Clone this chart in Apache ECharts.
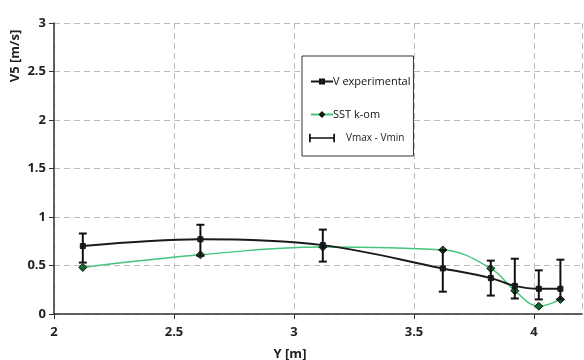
<!DOCTYPE html>
<html>
<head>
<meta charset="utf-8">
<script src="https://cdn.jsdelivr.net/npm/echarts@6/dist/echarts.min.js"></script>
<style>
  html, body { margin: 0; padding: 0; background: #fff; }
  #chart { width: 584px; height: 360px; }
</style>
</head>
<body>
<div id="chart"></div>
<script>
// positions along Y [m]
const yPos = [2.12, 2.61, 3.12, 3.62, 3.82, 3.92, 4.02, 4.11]
// measured velocity and its spread
const vExp = [0.70, 0.77, 0.71, 0.47, 0.37, 0.29, 0.26, 0.26]
const vMax = [0.83, 0.92, 0.87, 0.66, 0.55, 0.57, 0.45, 0.56]
const vMin = [0.53, 0.60, 0.54, 0.23, 0.19, 0.16, 0.15, 0.15]
// simulation
const vSst = [0.48, 0.61, 0.69, 0.66, 0.47, 0.24, 0.08, 0.15]

const font = 'Open Sans'
const chart = echarts.init(document.getElementById('chart'))

const errorData = yPos.map((x, i) => [x, vMin[i], vMax[i]])

// error bar: vertical line with caps
function renderError(params, api) {
  const top = api.coord([api.value(0), api.value(2)])
  const bot = api.coord([api.value(0), api.value(1)])
  const w = 4
  const style = { stroke: '#111', lineWidth: 2 }
  return {
    type: 'group',
    children: [
      { type: 'line', shape: { x1: top[0], y1: top[1], x2: bot[0], y2: bot[1] }, style },
      { type: 'line', shape: { x1: top[0] - w, y1: top[1], x2: top[0] + w, y2: top[1] }, style },
      { type: 'line', shape: { x1: bot[0] - w, y1: bot[1], x2: bot[0] + w, y2: bot[1] }, style }
    ]
  }
}

const option = {
  animation: false,
  grid: { left: 54, top: 23, right: 2, bottom: 46 },
  xAxis: {
    type: 'value',
    min: 2, max: 4.2, interval: 0.5,
    axisLine: { lineStyle: { color: '#333', width: 1.5 } },
    axisTick: { show: true, length: 5, lineStyle: { color: '#333' } },
    axisLabel: { color: '#222', fontFamily: font, fontWeight: 'bold', fontSize: 13, margin: 12, showMaxLabel: false },
    splitLine: { show: true, lineStyle: { color: '#bbb', type: [6, 4] } }
  },
  yAxis: {
    type: 'value',
    min: 0, max: 3, interval: 0.5,
    axisLine: { show: true, lineStyle: { color: '#333', width: 1.5 } },
    axisTick: { show: true, length: 5, lineStyle: { color: '#333' } },
    axisLabel: { color: '#222', fontFamily: font, fontWeight: 'bold', fontSize: 13, margin: 8 },
    splitLine: { show: true, lineStyle: { color: '#bbb', type: [6, 4] } }
  },
  legend: [
    {
      left: 302, top: 56,
      orient: 'vertical',
      padding: [20, 3, 36, 8],
      itemGap: 22,
      itemWidth: 22, itemHeight: 5,
      borderColor: '#333', borderWidth: 1,
      backgroundColor: '#fff',
      textStyle: { fontFamily: font, fontSize: 11, color: '#111', padding: [0, 0, 0, -5] },
      data: ['V experimental', 'SST k-om']
    },
    {
      left: 309, top: 133,
      orient: 'vertical',
      padding: 0,
      itemWidth: 26, itemHeight: 9,
      textStyle: { fontFamily: font, fontSize: 10, color: '#222', padding: [0, 0, 0, 6] },
      data: [{ name: 'Vmax - Vmin', icon: 'path://M0,0h2v10h-2z M0,4h30v2h-30z M28,0h2v10h-2z' }]
    }
  ],
  graphic: [
    {
      type: 'text', x: 15, y: 56, rotation: Math.PI / 2,
      style: { text: 'V5 [m/s]', fontFamily: font, fontWeight: 'bold', fontSize: 13, fill: '#222', align: 'center', verticalAlign: 'middle' }
    },
    {
      type: 'text', x: 290, y: 354,
      style: { text: 'Y [m]', fontFamily: font, fontWeight: 'bold', fontSize: 13, fill: '#222', align: 'center', verticalAlign: 'middle' }
    }
  ],
  series: [
    {
      name: 'V experimental',
      type: 'line',
      smooth: 0.35,
      data: yPos.map((x, i) => [x, vExp[i]]),
      symbol: 'rect', symbolSize: 5,
      lineStyle: { color: '#1a1a1a', width: 2 },
      itemStyle: { color: '#1f2a44', borderColor: '#111', borderWidth: 1 },
      z: 3
    },
    {
      name: 'SST k-om',
      type: 'line',
      smooth: 0.4,
      data: yPos.map((x, i) => [x, vSst[i]]),
      symbol: 'diamond', symbolSize: 8,
      lineStyle: { color: '#45c47a', width: 1.5 },
      itemStyle: { color: '#0b6a2c', borderColor: '#111', borderWidth: 1 },
      z: 2
    },
    {
      name: 'Vmax - Vmin',
      type: 'custom',
      renderItem: renderError,
      itemStyle: { color: '#111' },
      data: errorData,
      z: 4
    }
  ]
}

chart.setOption(option)
</script>
</body>
</html>
